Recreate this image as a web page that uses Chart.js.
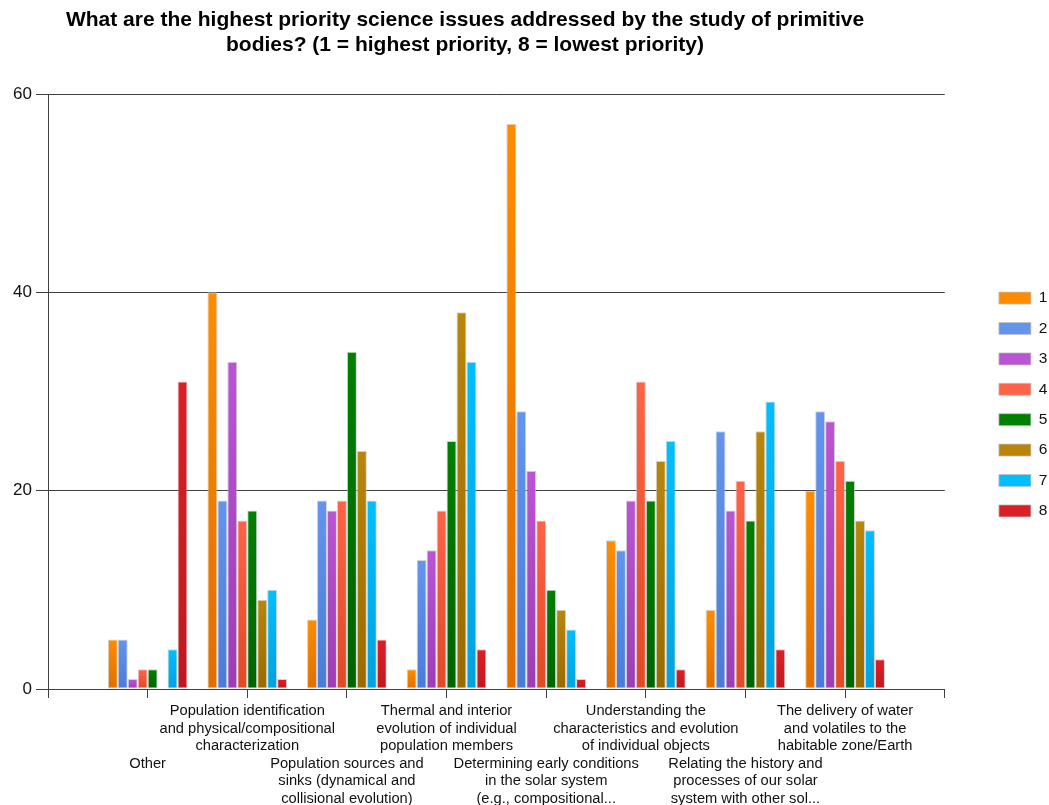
<!DOCTYPE html>
<html>
<head>
<meta charset="utf-8">
<title>Primitive bodies priorities</title>
<script src="https://cdn.jsdelivr.net/npm/chart.js@4.4.1/dist/chart.umd.min.js"></script>
<style>
  html, body { margin: 0; padding: 0; background: #fff; }
  #chart { display: block; }
</style>
</head>
<body>
<canvas id="chart" width="1049" height="805"></canvas>
<script>
// issues asked about in the survey, in the order they are plotted
const categories = [
  ['', '', '', 'Other'],
  ['Population identification', 'and physical/compositional', 'characterization'],
  ['', '', '', 'Population sources and', 'sinks (dynamical and', 'collisional evolution)'],
  ['Thermal and interior', 'evolution of individual', 'population members'],
  ['', '', '', 'Determining early conditions', 'in the solar system', '(e.g., compositional...'],
  ['Understanding the', 'characteristics and evolution', 'of individual objects'],
  ['', '', '', 'Relating the history and', 'processes of our solar', 'system with other sol...'],
  ['The delivery of water', 'and volatiles to the', 'habitable zone/Earth']
];

const seriesNames = ['1', '2', '3', '4', '5', '6', '7', '8'];

// number of responses for each priority rank, per issue
const rank1 = [5, 40, 7, 2, 57, 15, 8, 20];
const rank2 = [5, 19, 19, 13, 28, 14, 26, 28];
const rank3 = [1, 33, 18, 14, 22, 19, 18, 27];
const rank4 = [2, 17, 19, 18, 17, 31, 21, 23];
const rank5 = [2, 18, 34, 25, 10, 19, 17, 21];
const rank6 = [0, 9, 24, 38, 8, 23, 26, 17];
const rank7 = [4, 10, 19, 33, 6, 25, 29, 16];
const rank8 = [31, 1, 5, 4, 1, 2, 4, 3];

const yTicks = [0, 20, 40, 60];

const topColors = ['#ff8c00', '#6495ed', '#ba55d3', '#ff6347', '#008000', '#b8860b', '#00bfff', '#dc1f26'];
const bottomColors = ['#e06f00', '#4a7bd6', '#9c3db6', '#e04a24', '#006400', '#9a6a00', '#00a2de', '#c01820'];

const fontFamily = 'Arial, "Liberation Sans", sans-serif';

function barGradient(ctx, index) {
  const chart = ctx.chart;
  const y = chart.scales.y;
  if (!y || ctx.raw == null || ctx.raw === 0) {
    return topColors[index];
  }
  const top = y.getPixelForValue(ctx.raw);
  const base = y.getPixelForValue(0);
  const g = chart.ctx.createLinearGradient(0, top, 0, base);
  g.addColorStop(0, topColors[index]);
  g.addColorStop(1, bottomColors[index]);
  return g;
}

// the reference leaves one empty slot before the first and after the last issue
function padded(values) {
  return [null, ...values, null];
}

// moves the title and legend where the reference has them
const placeBoxes = {
  id: 'placeBoxes',
  afterLayout(chart) {
    const title = chart.titleBlock;
    if (title) {
      const w = title.right - title.left;
      title.left = 465 - w / 2;
      title.right = 465 + w / 2;
    }
    const legend = chart.legend;
    if (legend) {
      const w = legend.width;
      legend.left = 984;
      legend.right = 984 + w;
      legend.top = chart.chartArea.top + 13;
      legend.bottom = chart.chartArea.bottom + 13;
    }
  }
};

function createChart() {
  const ctx = document.getElementById('chart').getContext('2d');
  const allRanks = [rank1, rank2, rank3, rank4, rank5, rank6, rank7, rank8];

  return new Chart(ctx, {
    type: 'bar',
    data: {
      labels: padded(categories).map(l => l || ''),
      datasets: allRanks.map((values, i) => ({
        label: seriesNames[i],
        data: padded(values),
        backgroundColor: c => barGradient(c, i),
        borderColor: 'rgba(195,195,195,0.75)',
        borderWidth: 1,
        borderSkipped: false,
        categoryPercentage: 0.8,
        barPercentage: 1.0
      }))
    },
    options: {
      responsive: false,
      animation: false,
      layout: {
        padding: { left: 0, right: 31, top: 0, bottom: 0 }
      },
      scales: {
        x: {
          type: 'category',
          offset: false,
          grid: {
            display: true,
            offset: false,
            drawOnChartArea: false,
            drawTicks: true,
            tickLength: 9,
            color: '#404040'
          },
          border: { display: true, color: '#404040', width: 1 },
          ticks: {
            autoSkip: false,
            maxRotation: 0,
            minRotation: 0,
            padding: 4.5,
            color: '#111',
            font: { family: fontFamily, size: 14.7, lineHeight: '17.5px' }
          },
          afterFit(scale) {
            scale.height = 116;
          }
        },
        y: {
          min: 0,
          max: 60,
          afterBuildTicks(scale) {
            scale.ticks = yTicks.map(v => ({ value: v }));
          },
          grid: {
            color: '#404040',
            tickLength: 12,
            drawTicks: true
          },
          border: { display: true, color: '#404040', width: 1 },
          ticks: {
            padding: 4,
            color: '#111',
            font: { family: fontFamily, size: 17 }
          },
          afterFit(scale) {
            scale.width = 48;
          }
        }
      },
      plugins: {
        title: {
          display: true,
          text: [
            'What are the highest priority science issues addressed by the study of primitive',
            'bodies? (1 = highest priority, 8 = lowest priority)'
          ],
          color: '#000',
          font: { family: fontFamily, size: 21, weight: 'bold', lineHeight: '25px' },
          padding: { top: 8, bottom: 36 }
        },
        legend: {
          display: true,
          position: 'right',
          align: 'center',
          labels: {
            boxWidth: 32,
            boxHeight: 12,
            padding: 14.9,
            color: '#111',
            font: { family: fontFamily, size: 15.5 },
            generateLabels(chart) {
              return Chart.defaults.plugins.legend.labels.generateLabels(chart)
                .map((item, i) => ({ ...item, fillStyle: topColors[i] }));
            }
          }
        },
        tooltip: { enabled: false }
      }
    },
    plugins: [placeBoxes]
  });
}

createChart();
</script>
</body>
</html>
